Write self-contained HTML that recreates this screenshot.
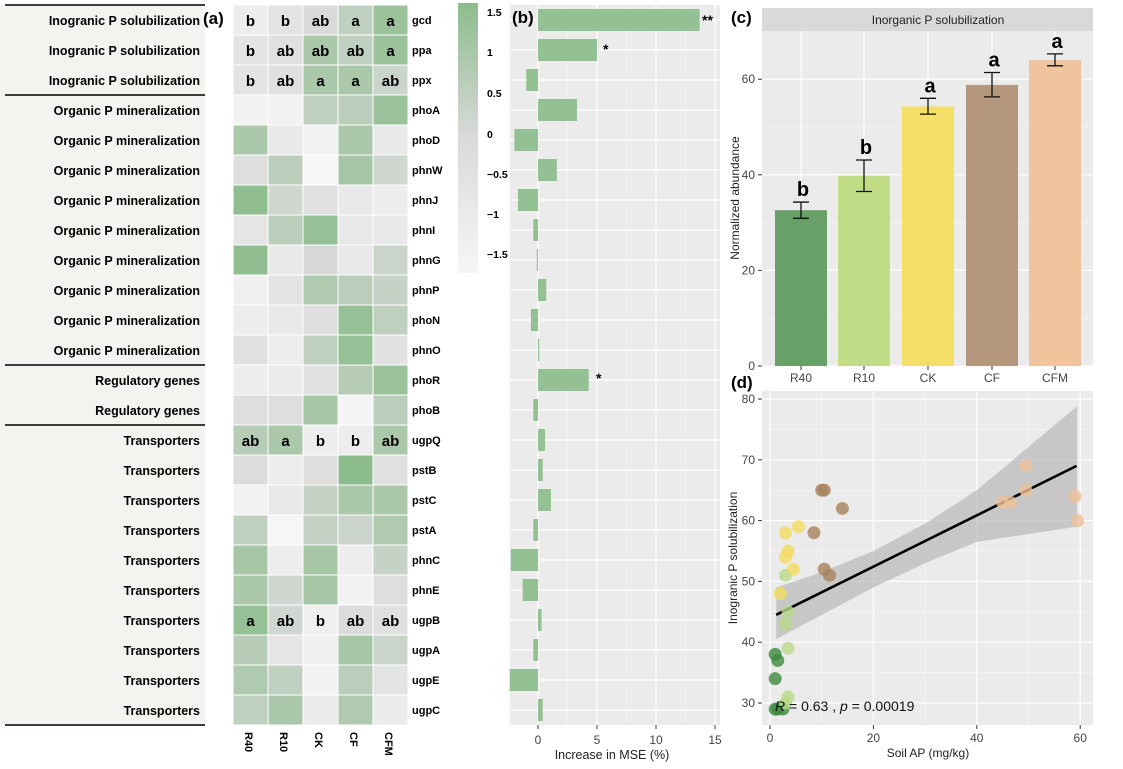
<!DOCTYPE html>
<html><head><meta charset="utf-8"><style>
body{margin:0;background:#fff;}
svg text{font-family:"Liberation Sans",Arial,sans-serif;}
</style></head><body>
<svg id="s" width="1123" height="764" viewBox="0 0 1123 764" xmlns="http://www.w3.org/2000/svg"></svg>
<script>
const S=document.getElementById('s');let h='';
function lerp(a,b,t){return a.map((v,i)=>Math.round(v+(b[i]-v)*t));}
function col(v){const lo=[246,246,246],mid=[218,218,218],hi=[140,188,140];
 let c=v<0?lerp(mid,lo,Math.min(1,-v/1.5)):lerp(mid,hi,Math.min(1,v/1.5));return `rgb(${c})`;}
const genes=['gcd','ppa','ppx','phoA','phoD','phnW','phnJ','phnI','phnG','phnP','phoN','phnO','phoR','phoB','ugpQ','pstB','pstC','pstA','phnC','phnE','ugpB','ugpA','ugpE','ugpC'];
const cat=['Inogranic P solubilization','Inogranic P solubilization','Inogranic P solubilization'].concat(Array(9).fill('Organic P mineralization'),['Regulatory genes','Regulatory genes'],Array(10).fill('Transporters'));
const V=[[-1,-0.5,0,0.5,1.2],[-0.5,-0.3,0.9,0.5,1.2],[-0.5,-0.3,0.9,0.9,0.3],[-1.3,-1.3,0.5,0.6,1.2],[0.9,-0.8,-1.3,0.9,-0.8],[-0.2,0.6,-1.5,1.0,0.2],[1.4,0.2,-0.3,-0.8,-1],[-0.6,0.6,1.3,-0.8,-0.8],[1.4,-0.8,0.1,-0.8,0.3],[-1.2,-0.5,0.8,0.6,0.4],[-1,-0.8,-0.2,1.3,0.5],[-0.3,-1,0.5,1.3,-0.4],[-1,-0.9,-0.4,0.7,1.2],[-0.2,-0.2,1.0,-1.4,0.6],[0.7,0.9,-1,-1,0.9],[-0.1,-1,-0.2,1.5,-0.3],[-1.3,-0.8,0.4,0.9,0.9],[0.5,-1.5,0.4,0.3,0.8],[1,-1,1,-1,0.4],[0.9,0.2,1,-1.3,-0.2],[1.3,0.2,-1.2,-0.1,-0.3],[0.7,-0.6,-1.2,1.0,0.3],[0.8,0.5,-1.3,0.6,-0.5],[0.5,0.9,-0.9,0.8,-0.9]];
const L={0:['b','b','ab','a','a'],1:['b','ab','ab','ab','a'],2:['b','ab','a','a','ab'],14:['ab','a','b','b','ab'],20:['a','ab','b','ab','ab']};
const mse=[13.7,5,-1,3.3,-2,1.6,-1.7,-0.4,-0.1,0.7,-0.6,0.1,4.3,-0.4,0.6,0.4,1.1,-0.4,-2.3,-1.3,0.3,-0.4,-2.4,0.4];
h+=`<rect x="0" y="5" width="205" height="720" fill="#f2f4f0"/>`;
[5,95,365,425,725].forEach(y=>h+=`<line x1="5" y1="${y}" x2="205" y2="${y}" stroke="#000" stroke-width="1.5"/>`);
const bx0=510,bx1=720,z=538,k=11.8;
h+=`<rect x="${bx0}" y="5" width="${bx1-bx0}" height="720" fill="#ebebeb"/>`;
[-2.5,2.5,7.5,12.5].forEach(v=>h+=`<line x1="${z+v*k}" y1="5" x2="${z+v*k}" y2="725" stroke="#f7f7f7" stroke-width="0.6"/>`);
[0,5,10,15].forEach(v=>{h+=`<line x1="${z+v*k}" y1="5" x2="${z+v*k}" y2="725" stroke="#fff" stroke-width="1.2"/><line x1="${z+v*k}" y1="725" x2="${z+v*k}" y2="729" stroke="#333"/><text x="${z+v*k}" y="744" font-size="12" fill="#444" text-anchor="middle">${v}</text>`;});
h+=`<text x="612" y="759" font-size="12.5" fill="#222" text-anchor="middle">Increase in MSE (%)</text>`;
for(let i=0;i<24;i++){const y=20+i*30;
 h+=`<line x1="${bx0}" y1="${y}" x2="${bx1}" y2="${y}" stroke="#fff" stroke-width="1.2"/>`;
 h+=`<text x="200" y="${y+5}" font-size="12.5" font-weight="bold" text-anchor="end">${cat[i]}</text>`;
 for(let j=0;j<5;j++){h+=`<rect x="${233+j*35}" y="${y-15}" width="35" height="30" fill="${col(V[i][j])}" stroke="#fff" stroke-width="1"/>`;
  if(L[i])h+=`<text x="${250.5+j*35}" y="${y+6}" font-size="15" font-weight="bold" text-anchor="middle">${L[i][j]}</text>`;}
 h+=`<text x="412" y="${y+4}" font-size="11" font-weight="bold">${genes[i]}</text>`;
 const v=mse[i],x1=z+Math.min(0,v)*k,w=Math.abs(v)*k;
 h+=`<rect x="${x1}" y="${y-11}" width="${w}" height="22" fill="#93c193"/>`;}
h+=`<text x="702" y="25" font-size="14" font-weight="bold">**</text><text x="603" y="54" font-size="14" font-weight="bold">*</text><text x="596" y="383" font-size="14" font-weight="bold">*</text>`;
['R40','R10','CK','CF','CFM'].forEach((t,j)=>h+=`<text transform="translate(${245+j*35},732) rotate(90)" font-size="11" font-weight="bold">${t}</text>`);
h+=`<defs><linearGradient id="g" x1="0" y1="0" x2="0" y2="1"><stop offset="0" stop-color="rgb(140,188,140)"/><stop offset="0.5" stop-color="rgb(218,218,218)"/><stop offset="1" stop-color="rgb(246,246,246)"/></linearGradient></defs>`;
h+=`<rect x="458" y="3" width="20" height="270" fill="url(#g)"/>`;
[['1.5',16],['1',56],['0.5',97],['0',138],['\u22120.5',178],['\u22121',218],['\u22121.5',258]].forEach(([t,y])=>h+=`<text x="487" y="${y}" font-size="10.5" font-weight="bold">${t}</text>`);
h+=`<text x="203" y="24" font-size="17" font-weight="bold">(a)</text><text x="512" y="23" font-size="17" font-weight="bold">(b)</text><text x="731" y="23" font-size="17" font-weight="bold">(c)</text><text x="731" y="388" font-size="17" font-weight="bold">(d)</text>`;
const cy=v=>366-v*4.78;
h+=`<rect x="762" y="8" width="331" height="23" fill="#d9d9d9"/><text x="938" y="24" font-size="12" text-anchor="middle" fill="#222">Inorganic P solubilization</text>`;
h+=`<rect x="762" y="31" width="331" height="335" fill="#ebebeb"/>`;
[10,30,50].forEach(v=>h+=`<line x1="762" y1="${cy(v)}" x2="1093" y2="${cy(v)}" stroke="#f7f7f7" stroke-width="0.6"/>`);
[0,20,40,60].forEach(v=>h+=`<line x1="762" y1="${cy(v)}" x2="1093" y2="${cy(v)}" stroke="#fff" stroke-width="1.2"/><line x1="758" y1="${cy(v)}" x2="762" y2="${cy(v)}" stroke="#333"/><text x="755" y="${cy(v)+4}" font-size="12" fill="#444" text-anchor="end">${v}</text>`);
const B=[[801,32.6,30.9,34.3,'#68a068','R40','b'],[864,39.8,36.5,43.1,'#c1dc86','R10','b'],[928,54.3,52.7,56,'#f4df68','CK','a'],[992,58.8,56.3,61.4,'#b5977d','CF','a'],[1055,64.0,62.8,65.3,'#f0c59e','CFM','a']];
B.forEach(b=>h+=`<line x1="${b[0]}" y1="31" x2="${b[0]}" y2="366" stroke="#fff" stroke-width="1.2"/>`);
B.forEach(([x,v,lo,hi,c,n,l])=>{h+=`<rect x="${x-26}" y="${cy(v)}" width="52" height="${366-cy(v)}" fill="${c}"/>`;
 h+=`<path d="M${x-8} ${cy(hi)}H${x+8}M${x} ${cy(hi)}V${cy(lo)}M${x-8} ${cy(lo)}H${x+8}" stroke="#111" stroke-width="1.3" fill="none"/>`;
 h+=`<text x="${x+2}" y="${cy(hi)-6}" font-size="20" font-weight="bold" text-anchor="middle">${l}</text>`;
 h+=`<line x1="${x}" y1="366" x2="${x}" y2="370" stroke="#333"/><text x="${x}" y="382" font-size="12" fill="#444" text-anchor="middle">${n}</text>`;});
h+=`<text transform="translate(739,198) rotate(-90)" font-size="12" text-anchor="middle" fill="#222">Normalized abundance</text>`;
const dx=v=>770+v*5.17,dy=v=>703-(v-30)*6.08;
h+=`<rect x="762" y="391" width="331" height="334" fill="#ebebeb"/>`;
[10,30,50].forEach(v=>h+=`<line x1="${dx(v)}" y1="391" x2="${dx(v)}" y2="725" stroke="#f7f7f7" stroke-width="0.6"/>`);
[35,45,55,65,75].forEach(v=>h+=`<line x1="762" y1="${dy(v)}" x2="1093" y2="${dy(v)}" stroke="#f7f7f7" stroke-width="0.6"/>`);
[0,20,40,60].forEach(v=>h+=`<line x1="${dx(v)}" y1="391" x2="${dx(v)}" y2="725" stroke="#fff" stroke-width="1.2"/><line x1="${dx(v)}" y1="725" x2="${dx(v)}" y2="729" stroke="#333"/><text x="${dx(v)}" y="742" font-size="12" fill="#444" text-anchor="middle">${v}</text>`);
[30,40,50,60,70,80].forEach(v=>h+=`<line x1="762" y1="${dy(v)}" x2="1093" y2="${dy(v)}" stroke="#fff" stroke-width="1.2"/><line x1="758" y1="${dy(v)}" x2="762" y2="${dy(v)}" stroke="#333"/><text x="755" y="${dy(v)+4}" font-size="12" fill="#444" text-anchor="end">${v}</text>`);
h+=`<path d="M${dx(1.2)} ${dy(40.5)} L${dx(10)} ${dy(44.5)} L${dx(20)} ${dy(49)} L${dx(30)} ${dy(53)} L${dx(40)} ${dy(56.5)} L${dx(59.4)} ${dy(59)} L${dx(59.4)} ${dy(78.8)} L${dx(40)} ${dy(65)} L${dx(30)} ${dy(59.5)} L${dx(20)} ${dy(55)} L${dx(10)} ${dy(51.5)} L${dx(1.2)} ${dy(49)} Z" fill="#b8b8b8" fill-opacity="0.7"/>`;
h+=`<line x1="${dx(1.2)}" y1="${dy(44.5)}" x2="${dx(59.3)}" y2="${dy(69)}" stroke="#000" stroke-width="2.6"/>`;
const P=[['#3f8a3f',[[1,38],[1.5,37],[1,34],[1,29],[1.5,29],[2.5,29]]],['#b8d98a',[[3,51],[3.5,45],[3,43],[3.5,39],[3.5,31],[3,30]]],['#f2dc5c',[[3,58],[5.5,59],[3.5,55],[3,54],[4.5,52],[2,48]]],['#a9825e',[[10,65],[10.5,65],[14,62],[8.5,58],[10.5,52],[11.5,51]]],['#eebf98',[[45,63],[46.5,63],[49.5,69],[49.5,65],[59,64],[59.5,60]]]];
P.forEach(([c,pts])=>pts.forEach(([x,y])=>h+=`<circle cx="${dx(x)}" cy="${dy(y)}" r="6.5" fill="${c}" fill-opacity="0.8"/>`));
h+=`<text x="775" y="711" font-size="14" fill="#111"><tspan font-style="italic">R</tspan> = 0.63 , <tspan font-style="italic">p</tspan> = 0.00019</text>`;
h+=`<text x="928" y="757" font-size="12" text-anchor="middle" fill="#222">Soil AP (mg/kg)</text>`;
h+=`<text transform="translate(737,558) rotate(-90)" font-size="12" text-anchor="middle" fill="#222">Inogranic P solubilization</text>`;
S.innerHTML=h;
</script>
</body></html>
